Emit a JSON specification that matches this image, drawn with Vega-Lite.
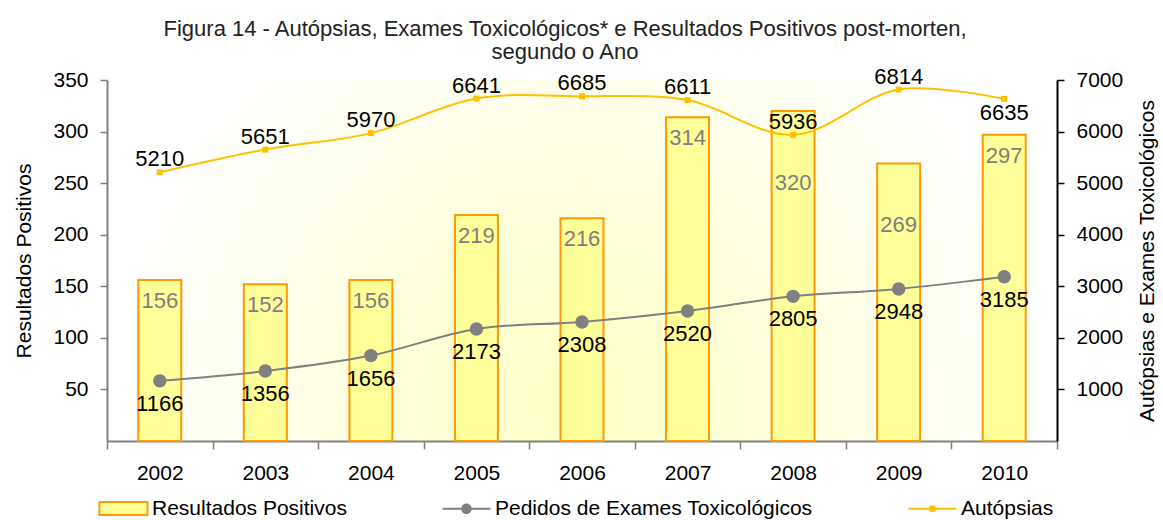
{
  "$schema": "https://vega.github.io/schema/vega-lite/v6.json",
  "width": 950,
  "height": 361,
  "autosize": {"type": "none"},
  "padding": {"left": 107, "top": 80, "right": 106, "bottom": 79},
  "background": "white",
  "title": {
    "text": ["Figura 14 - Autópsias, Exames Toxicológicos* e Resultados Positivos post-morten,", "segundo o Ano"],
    "font": "Liberation Sans",
    "fontSize": 22,
    "fontWeight": "normal",
    "color": "#222222",
    "anchor": "middle",
    "frame": "group",
    "dx": -17,
    "lineHeight": 23,
    "offset": 2
  },
  "config": {
    "font": "Liberation Sans",
    "view": {
      "stroke": null,
      "fill": {
        "gradient": "radial",
        "x1": 0.5, "y1": 0.65, "x2": 0.5, "y2": 0.65, "r1": 0, "r2": 0.5,
        "stops": [
          {"offset": 0, "color": "#FFFFC4"},
          {"offset": 1, "color": "#FFFFFF"}
        ]
      }
    }
  },
  "data": {
    "values": [
      {"ano": "2002", "resultados": 156, "pedidos": 1166, "autopsias": 5210},
      {"ano": "2003", "resultados": 152, "pedidos": 1356, "autopsias": 5651},
      {"ano": "2004", "resultados": 156, "pedidos": 1656, "autopsias": 5970},
      {"ano": "2005", "resultados": 219, "pedidos": 2173, "autopsias": 6641},
      {"ano": "2006", "resultados": 216, "pedidos": 2308, "autopsias": 6685},
      {"ano": "2007", "resultados": 314, "pedidos": 2520, "autopsias": 6611},
      {"ano": "2008", "resultados": 320, "pedidos": 2805, "autopsias": 5936},
      {"ano": "2009", "resultados": 269, "pedidos": 2948, "autopsias": 6814},
      {"ano": "2010", "resultados": 297, "pedidos": 3185, "autopsias": 6635}
    ]
  },
  "encoding": {
    "x": {
      "field": "ano",
      "type": "ordinal",
      "scale": {"paddingInner": 0, "paddingOuter": 0},
      "axis": {
        "title": null,
        "labelAngle": 0,
        "labelFontSize": 21,
        "labelColor": "black",
        "labelPadding": 13,
        "domainColor": "#808080",
        "domainWidth": 2,
        "tickColor": "#808080",
        "tickWidth": 1.5,
        "tickSize": 8,
        "tickBand": "extent"
      }
    }
  },
  "layer": [
    {
      "encoding": {
        "y": {
          "field": "resultados",
          "type": "quantitative",
          "scale": {"domain": [0, 350]},
          "axis": {
            "orient": "left",
            "title": "Resultados Positivos",
            "values": [50, 100, 150, 200, 250, 300, 350],
            "grid": false,
            "domainColor": "#808080",
            "domainWidth": 2,
            "tickColor": "#808080",
            "tickWidth": 1.5,
            "tickSize": 7,
            "labelFontSize": 21,
            "labelColor": "black",
            "labelPadding": 12,
            "titleFontSize": 21,
            "titleFontWeight": "normal",
            "titleColor": "black",
            "titlePadding": 18
          }
        }
      },
      "layer": [
        {
          "mark": {"type": "bar", "width": 43, "opacity": 1},
          "encoding": {
            "stroke": {"value": "#FF9900"},
            "strokeWidth": {"value": 2},
            "color": {
              "datum": "Resultados Positivos",
              "type": "nominal",
              "scale": {
                "domain": ["Resultados Positivos", "Pedidos de Exames Toxicológicos", "Autópsias"],
                "range": ["#FFFF99", "#808080", "#FFC000"]
              },
              "legend": {
                "orient": "none",
                "legendX": 6,
                "legendY": 418,
                "direction": "horizontal",
                "title": null,
                "padding": 0,
                "symbolSize": 2304,
                "symbolType": {"expr": "datum.value === 'Resultados Positivos' ? 'M-1,-0.27H1V0.27H-1Z' : datum.value === 'Autópsias' ? 'M-1,-0.045H-0.13V0.045H-1Z M0.13,-0.045H1V0.045H0.13Z M-0.13,-0.13H0.13V0.13H-0.13Z' : 'M-1,-0.045H-0.2V0.045H-1Z M0.2,-0.045H1V0.045H0.2Z M0.22,0A0.22,0.22 0 1 1 -0.22,0A0.22,0.22 0 1 1 0.22,0Z'"},
                "symbolStrokeWidth": {"expr": "datum.value === 'Resultados Positivos' ? 2 : 0"},
                "labelFontSize": 21,
                "labelColor": "black",
                "labelFont": "Liberation Sans",
                "labelOffset": 18,
                "columnPadding": 95,
                "labelLimit": 400
              }
            }
          }
        },
        {
          "transform": [{"filter": "datum.ano !== '2008' && datum.ano !== '2009'"}],
          "mark": {"type": "text", "fontSize": 22, "color": "#808080", "dy": 21, "baseline": "middle"},
          "encoding": {"text": {"field": "resultados", "type": "quantitative", "format": "d"}}
        },
        {
          "transform": [{"filter": "datum.ano === '2008'"}],
          "mark": {"type": "text", "fontSize": 22, "color": "#808080", "dy": 72, "baseline": "middle"},
          "encoding": {"text": {"field": "resultados", "type": "quantitative", "format": "d"}}
        },
        {
          "transform": [{"filter": "datum.ano === '2009'"}],
          "mark": {"type": "text", "fontSize": 22, "color": "#808080", "dy": 61, "baseline": "middle"},
          "encoding": {"text": {"field": "resultados", "type": "quantitative", "format": "d"}}
        }
      ]
    },
    {
      "layer": [
        {
          "mark": {"type": "line", "interpolate": "catmull-rom", "strokeWidth": 2, "color": "#808080"},
          "encoding": {
            "y": {
              "field": "pedidos",
              "type": "quantitative",
              "scale": {"domain": [0, 7000]},
              "axis": {
                "orient": "right",
                "title": "Autópsias e Exames Toxicológicos",
                "values": [1000, 2000, 3000, 4000, 5000, 6000, 7000],
                "format": "d",
                "grid": false,
                "domainColor": "black",
                "domainWidth": 2,
                "tickColor": "black",
                "tickWidth": 1.5,
                "tickSize": 7,
                "labelFontSize": 21,
                "labelColor": "black",
                "labelPadding": 12,
                "titleFontSize": 21,
                "titleFontWeight": "normal",
                "titleColor": "black",
                "titleAngle": 270,
                "titleBaseline": "top",
                "titlePadding": 14
              }
            }
          }
        },
        {
          "mark": {"type": "point", "filled": true, "size": 180, "opacity": 1, "color": "#808080"},
          "encoding": {
            "y": {"field": "pedidos", "type": "quantitative"}
          }
        },
        {
          "mark": {"type": "text", "fontSize": 22, "color": "black", "dy": 23, "baseline": "middle"},
          "encoding": {
            "y": {"field": "pedidos", "type": "quantitative"},
            "text": {"field": "pedidos", "type": "quantitative", "format": "d"}
          }
        },
        {
          "mark": {"type": "line", "interpolate": "catmull-rom", "strokeWidth": 2, "color": "#FFC000"},
          "encoding": {
            "y": {"field": "autopsias", "type": "quantitative"}
          }
        },
        {
          "mark": {"type": "point", "filled": true, "shape": "square", "size": 36, "opacity": 1, "color": "#FFC000"},
          "encoding": {
            "y": {"field": "autopsias", "type": "quantitative"}
          }
        },
        {
          "transform": [{"filter": "datum.ano !== '2010'"}],
          "mark": {"type": "text", "fontSize": 22, "color": "black", "dy": -13, "baseline": "middle"},
          "encoding": {
            "y": {"field": "autopsias", "type": "quantitative"},
            "text": {"field": "autopsias", "type": "quantitative", "format": "d"}
          }
        },
        {
          "transform": [{"filter": "datum.ano === '2010'"}],
          "mark": {"type": "text", "fontSize": 22, "color": "black", "dy": 14, "baseline": "middle"},
          "encoding": {
            "y": {"field": "autopsias", "type": "quantitative"},
            "text": {"field": "autopsias", "type": "quantitative", "format": "d"}
          }
        }
      ]
    }
  ],
  "resolve": {"scale": {"y": "independent"}}
}
